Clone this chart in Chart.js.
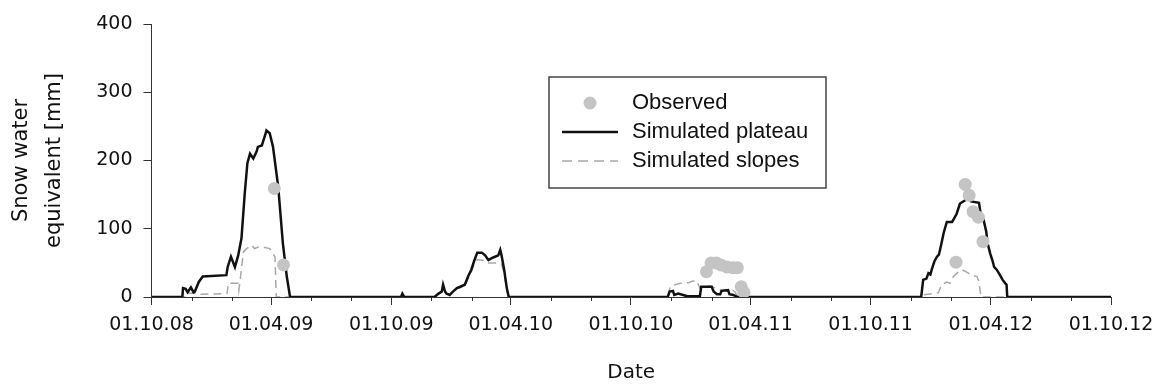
<!DOCTYPE html>
<html>
<head>
<meta charset="utf-8">
<script src="https://cdn.jsdelivr.net/npm/chart.js@4.4.1/dist/chart.umd.min.js"></script>
<style>
  html, body { margin: 0; padding: 0; background: #fff; }
  #wrap { position: relative; width: 1154px; height: 386px; }
</style>
</head>
<body>
<div id="wrap"><canvas id="sweChart"></canvas></div>
<script>
// x values are days counted from 01.10.08
const startDate = new Date(2008, 9, 1);
const dateLabels = ['01.10.08', '01.04.09', '01.10.09', '01.04.10', '01.10.10', '01.04.11', '01.10.11', '01.04.12', '01.10.12'];
const yTicks = [0, 100, 200, 300, 400];

const plateauDays = [0, 47, 48, 52, 55, 60, 64, 66, 72, 78, 114, 116, 121, 127, 132, 137, 142, 146, 150, 155, 160, 162, 168, 173, 175, 180, 185, 193, 200, 206, 211,
  380, 382, 385, 431, 437, 442, 444, 447, 449, 454, 459, 465, 470, 477, 482, 487, 491, 496, 503, 508, 513, 518, 523, 528, 531, 533, 537, 541, 544,
  786, 789, 794, 796, 802, 816, 835, 837, 853, 856, 861, 866, 868, 878, 880, 886, 892,
  1172, 1175, 1180, 1183, 1186, 1188, 1192, 1196, 1199, 1203, 1206, 1208, 1211, 1219, 1222, 1226, 1231, 1236, 1241, 1244, 1248, 1260, 1262, 1267, 1271, 1273, 1277, 1281, 1283, 1287, 1292, 1296, 1300, 1302, 1303, 1461];
const plateauSwe = [0, 0, 13, 12, 7, 14, 7, 8, 22, 30, 32, 44, 59, 44, 61, 86, 152, 196, 210, 203, 213, 220, 222, 237, 244, 240, 220, 161, 79, 30, 0,
  0, 5, 0, 0, 5, 8, 18, 8, 5, 3, 8, 13, 15, 18, 30, 40, 52, 65, 65, 61, 54, 57, 59, 61, 69, 61, 40, 13, 0,
  0, 8, 9, 3, 5, 1, 1, 15, 15, 8, 4, 4, 9, 10, 4, 3, 0,
  0, 25, 27, 35, 33, 40, 52, 59, 62, 79, 93, 100, 110, 110, 115, 122, 137, 140, 143, 147, 140, 138, 125, 113, 96, 79, 64, 52, 44, 40, 32, 25, 20, 18, 0, 0];

const slopesDays = [0, 52, 54, 70, 75, 115, 117, 132, 133, 135, 140, 145, 152, 157, 165, 180, 183, 188, 190,
  433, 437, 442, 444, 447, 454, 465, 477, 487, 491, 496, 508, 513, 528, 533, 537, 541, 544,
  786, 787, 790, 794, 805, 818, 823, 830, 835, 840, 851, 859, 867, 885, 889, 891, 895,
  1170, 1175, 1190, 1198, 1203, 1211, 1216, 1221, 1229, 1234, 1242, 1249, 1257, 1260, 1263, 1461];
const slopesSwe = [0, 0, 6, 5, 4, 5, 20, 20, 10, 25, 66, 71, 76, 71, 74, 71, 66, 59, 0,
  0, 4, 7, 15, 7, 3, 12, 16, 37, 48, 55, 53, 50, 50, 48, 35, 10, 0,
  0, 5, 15, 17, 20, 21, 23, 24, 13, 15, 16, 13, 10, 10, 7, 3, 0,
  0, 3, 5, 6, 18, 22, 20, 30, 37, 40, 36, 32, 30, 22, 0, 0];

const observedDays = [187, 201, 845, 852, 860, 867, 876, 885, 892, 898, 902, 1225, 1239, 1245, 1251, 1259, 1266];
const observedSwe = [159, 47, 37, 50, 50, 47, 44, 43, 43, 15, 7, 51, 165, 149, 125, 117, 81];

function dayOf(d) {
  return Math.round((d - startDate) / 86400000);
}
function labelDay(s) {
  const p = s.split('.');
  return dayOf(new Date(2000 + parseInt(p[2]), parseInt(p[1]) - 1, parseInt(p[0])));
}
function pairs(xs, ys) {
  return xs.map((x, i) => ({ x: x, y: ys[i] }));
}

const majorDays = dateLabels.map(labelDay);
const minorDays = [];
for (let m = 2; m < 48; m += 2) {
  if (m % 6 !== 0) minorDays.push(dayOf(new Date(2008, 9 + m, 1)));
}

const sansWide = '"DejaVu Sans", sans-serif';
const sansArial = '"Liberation Sans", Arial, sans-serif';

// short minor ticks on the date axis, and the boxed legend
const extrasPlugin = {
  id: 'extras',
  afterDraw(chart) {
    const ctx = chart.ctx;
    const xs = chart.scales.x;
    const yb = chart.chartArea.bottom;
    ctx.save();
    ctx.strokeStyle = '#333';
    ctx.lineWidth = 1;
    minorDays.forEach(function (d) {
      const px = Math.round(xs.getPixelForValue(d)) + 0.5;
      ctx.beginPath();
      ctx.moveTo(px, yb);
      ctx.lineTo(px, yb + 4);
      ctx.stroke();
    });

    // legend
    const bx = 549, by = 77, bw = 277, bh = 111;
    ctx.fillStyle = '#fff';
    ctx.fillRect(bx, by, bw, bh);
    ctx.strokeStyle = '#444';
    ctx.lineWidth = 1.5;
    ctx.strokeRect(bx, by, bw, bh);

    ctx.fillStyle = '#c4c4c4';
    ctx.beginPath();
    ctx.arc(590, 103, 6.5, 0, Math.PI * 2);
    ctx.fill();

    ctx.strokeStyle = '#111';
    ctx.lineWidth = 2.5;
    ctx.beginPath();
    ctx.moveTo(562, 132);
    ctx.lineTo(618, 132);
    ctx.stroke();

    ctx.strokeStyle = '#a8a8a8';
    ctx.lineWidth = 1.5;
    ctx.setLineDash([10, 6]);
    ctx.beginPath();
    ctx.moveTo(562, 161);
    ctx.lineTo(618, 161);
    ctx.stroke();
    ctx.setLineDash([]);

    ctx.fillStyle = '#111';
    ctx.font = '22px ' + sansArial;
    ctx.textBaseline = 'middle';
    ctx.textAlign = 'left';
    ctx.fillText('Observed', 632, 103);
    ctx.fillText('Simulated plateau', 632, 132);
    ctx.fillText('Simulated slopes', 632, 161);
    ctx.restore();
  }
};

const ctx = document.getElementById('sweChart').getContext('2d');
const chart = new Chart(ctx, {
  type: 'scatter',
  data: {
    datasets: [
      {
        label: 'Observed',
        data: pairs(observedDays, observedSwe),
        pointRadius: 6.5,
        pointBackgroundColor: '#c4c4c4',
        pointBorderWidth: 0,
        order: 0
      },
      {
        label: 'Simulated plateau',
        data: pairs(plateauDays, plateauSwe),
        showLine: true,
        borderColor: '#111',
        borderWidth: 2.5,
        pointRadius: 0,
        order: 1
      },
      {
        label: 'Simulated slopes',
        data: pairs(slopesDays, slopesSwe),
        showLine: true,
        borderColor: '#a8a8a8',
        borderWidth: 1.5,
        borderDash: [8, 5],
        pointRadius: 0,
        order: 2
      }
    ]
  },
  options: {
    responsive: true,
    maintainAspectRatio: false,
    animation: false,
    layout: { padding: { top: 24, right: 43, left: 0, bottom: 0 } },
    plugins: {
      legend: { display: false },
      tooltip: { enabled: false }
    },
    scales: {
      x: {
        type: 'linear',
        min: 0,
        max: majorDays[majorDays.length - 1],
        afterFit: function (s) {
          s.height = 89;
          s.paddingLeft = 0;
          s.paddingRight = 0;
        },
        afterBuildTicks: function (s) {
          s.ticks = majorDays.map(v => ({ value: v }));
        },
        grid: { drawOnChartArea: false, tickLength: 8, tickColor: '#333' },
        border: { color: '#333', width: 1 },
        ticks: {
          autoSkip: false,
          maxRotation: 0,
          padding: 9,
          color: '#111',
          font: { family: sansWide, size: 19 },
          callback: function (v) {
            const i = majorDays.indexOf(v);
            return i >= 0 ? dateLabels[i] : '';
          }
        },
        title: {
          display: true,
          text: 'Date',
          color: '#111',
          font: { family: sansWide, size: 20 },
          padding: { top: 0, bottom: 1 }
        }
      },
      y: {
        min: 0,
        max: 400,
        afterFit: function (s) { s.width = 151.5; },
        afterBuildTicks: function (s) {
          s.ticks = yTicks.map(v => ({ value: v }));
        },
        grid: { drawOnChartArea: false, tickLength: 8, tickColor: '#333' },
        border: { color: '#333', width: 1 },
        ticks: {
          padding: 11,
          color: '#111',
          font: { family: sansWide, size: 19 }
        },
        title: {
          display: true,
          text: ['Snow water', 'equivalent [mm]'],
          color: '#111',
          font: { family: sansWide, size: 21, lineHeight: 1.57 },
          padding: { top: 5, bottom: 0 }
        }
      }
    }
  },
  plugins: [extrasPlugin]
});
</script>
</body>
</html>
